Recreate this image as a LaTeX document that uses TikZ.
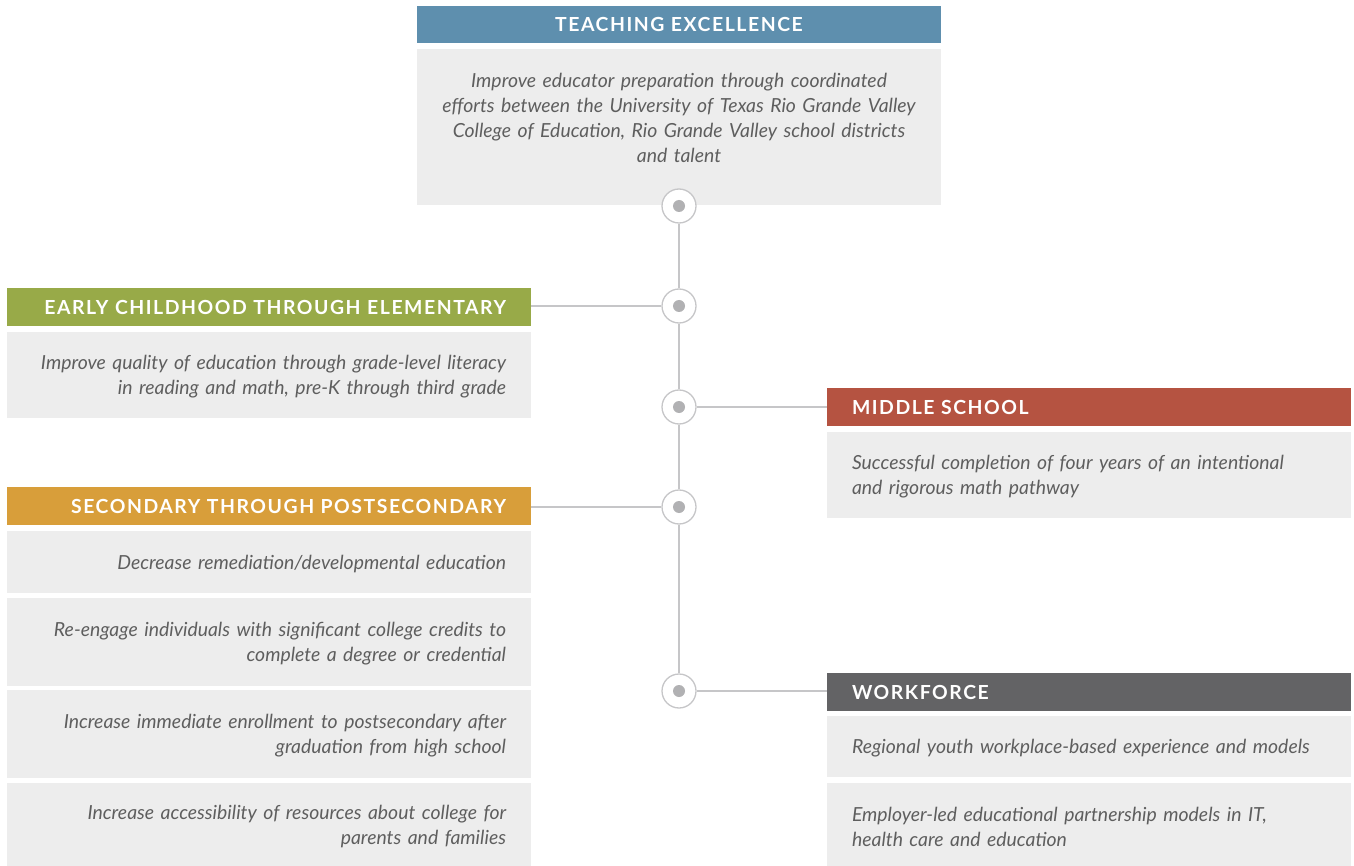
\documentclass[tikz,border=0pt]{standalone}
\usepackage{fontspec}
\setmainfont{Lato}
\newfontfamily\headfont[LetterSpace=8.0]{Lato}
\definecolor{teachblue}{HTML}{5E8FAE}
\definecolor{earlygreen}{HTML}{98AA48}
\definecolor{midred}{HTML}{B55341}
\definecolor{secorange}{HTML}{D89E3A}
\definecolor{workgray}{HTML}{636365}
\definecolor{bodygray}{HTML}{EDEDED}
\definecolor{txtgray}{HTML}{5E5E5E}
\definecolor{linegray}{HTML}{C6C6C8}
\definecolor{dotgray}{HTML}{B1B1B3}
\tikzset{
  hdr/.style={minimum height=37pt, inner xsep=25pt, inner ysep=0pt, text width=474pt,
    text=white, font=\headfont\bfseries\fontsize{19.4}{22}\selectfont},
  bodybox/.style={fill=bodygray, inner xsep=25pt, inner ysep=0pt, text width=474pt,
    text=txtgray, font=\itshape\fontsize{19.4}{25}\selectfont,
    execute at end node={\par\vspace*{-4pt}}},
  hub/.style={circle, minimum size=34pt, inner sep=0pt, draw=linegray, line width=1.3pt, fill=white,
    path picture={\fill[dotgray] (path picture bounding box.center) circle (6pt);}},
  conn/.style={draw=linegray, line width=1.3pt}
}
\begin{document}
\begin{tikzpicture}[x=1pt,y=-1pt]
\useasboundingbox (0,0) rectangle (1354,866);
% Teaching excellence
\node[hdr, fill=teachblue, align=center, minimum height=37pt] (th) at (679,24.5) {TEACHING EXCELLENCE};
\node[bodybox, align=center, minimum height=156pt] (tb) at (679,127) {Improve educator preparation through coordinated\\ efforts between the University of Texas Rio Grande Valley\\ College of Education, Rio Grande Valley school districts\\ and talent\par\vspace*{22pt}};
% Early childhood
\node[hdr, fill=earlygreen, align=right, minimum height=38pt] (eh) at (269,307) {EARLY CHILDHOOD THROUGH ELEMENTARY};
\node[bodybox, align=right, minimum height=86pt] (eb) at (269,375) {Improve quality of education through grade-level literacy\\ in reading and math, pre-K through third grade};
% Middle school
\node[hdr, fill=midred, align=left, minimum height=38pt] (mh) at (1089,407) {MIDDLE SCHOOL};
\node[bodybox, align=left, minimum height=86pt] (mb) at (1089,475) {Successful completion of four years of an intentional\\ and rigorous math pathway};
% Secondary
\node[hdr, fill=secorange, align=right, minimum height=38pt] (sh) at (269,506) {SECONDARY THROUGH POSTSECONDARY};
\node[bodybox, align=right, minimum height=62pt] (s1) at (269,562) {Decrease remediation/developmental education};
\node[bodybox, align=right, minimum height=88pt] (s2) at (269,642) {Re-engage individuals with significant college credits to\\ complete a degree or credential};
\node[bodybox, align=right, minimum height=88pt] (s3) at (269,734) {Increase immediate enrollment to postsecondary after\\ graduation from high school};
\node[bodybox, align=right, minimum height=83pt] (s4) at (269,824.5) {Increase accessibility of resources about college for\\ parents and families};
% Workforce
\node[hdr, fill=workgray, align=left, minimum height=38pt] (wh) at (1089,692) {WORKFORCE};
\node[bodybox, align=left, minimum height=61pt] (w1) at (1089,746.5) {Regional youth workplace-based experience and models};
\node[bodybox, align=left, minimum height=83pt] (w2) at (1089,824.5) {Employer-led educational partnership models in IT,\\ health care and education};
% Hubs
\node[hub] (c1) at (679,206) {};
\node[hub] (c2) at (679,306) {};
\node[hub] (c3) at (679,407) {};
\node[hub] (c4) at (679,507) {};
\node[hub] (c5) at (679,691) {};
% Connectors
\draw[conn] (c1) -- (c2);
\draw[conn] (c2) -- (c3);
\draw[conn] (c3) -- (c4);
\draw[conn] (c4) -- (c5);
\draw[conn] (c2) -- (eh.east |- c2);
\draw[conn] (c3) -- (mh.west |- c3);
\draw[conn] (c4) -- (sh.east |- c4);
\draw[conn] (c5) -- (wh.west |- c5);
\end{tikzpicture}
\end{document}
